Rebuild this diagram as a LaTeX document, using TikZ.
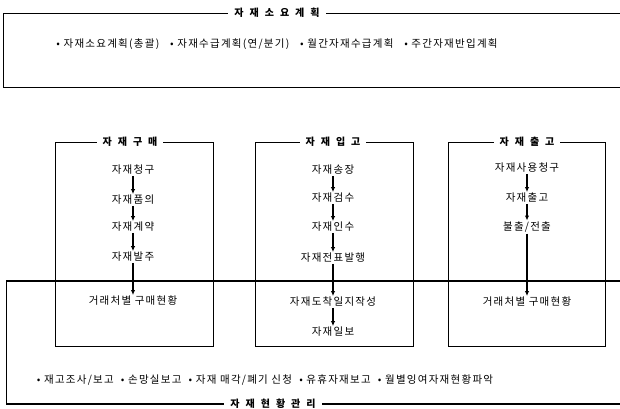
\documentclass[tikz,border=0pt]{standalone}
\usepackage{fontspec}
\setmainfont{Noto Sans CJK KR}[LetterSpace=12]
\usetikzlibrary{positioning, arrows.meta, calc}

\begin{document}
\begin{tikzpicture}[
    x=1pt, y=-1pt, % work in pixel-like units, y pointing down
    >={Latex[length=5pt,width=4.5pt]}, % Arrow tip style
    step_text/.style={ % Style for the steps inside a box
        inner sep=1pt,
        font=\fontsize{10.5}{12}\selectfont
    },
    title_text/.style={ % Box titles sitting on the frame line
        fill=white,
        inner xsep=6pt,
        inner ysep=1pt,
        font=\fontsize{10}{12}\selectfont\bfseries
    },
    item_text/.style={ % Bullet lists of the wide boxes
        font=\fontsize{10.5}{12}\selectfont
    },
    frame/.style={draw=black, line width=0.7pt},
    thickframe/.style={draw=black, line width=1.4pt},
    flow/.style={->, line width=1.1pt}
]
\useasboundingbox (0,0) rectangle (620,408);

% Top box
\draw[frame] (620,13) -- (3,13) -- (3,87) -- (620,87);
\node[title_text] (plan) at (277,13) {자\hspace{6pt}재\hspace{6pt}소\hspace{6pt}요\hspace{6pt}계\hspace{6pt}획};
\node[item_text] (planitems) at (277,44) {•\ 자재소요계획(총괄)\ \ \ •\ 자재수급계획(연/분기)\ \ \ •\ 월간자재수급계획\ \ \ •\ 주간자재반입계획};

% Bottom wide box
\draw[thickframe] (620,281) -- (6,281);
\draw[frame] (6,281) -- (6,404);
\draw[thickframe] (6,404) -- (620,404);
\node[title_text] (status) at (273,404) {자\hspace{6pt}재\hspace{6pt}현\hspace{6pt}황\hspace{6pt}관\hspace{6pt}리};
\node[item_text] (statusitems) at (265,380) {•\ 재고조사/보고\ \ •\ 손망실보고\ \ •\ 자재\ 매각/폐기\ 신청\ \ •\ 유휴자재보고\ \ •\ 월별잉여자재현황파악};

% Three process boxes
\draw[frame] (55,142) rectangle (213,346);
\draw[frame] (255,142) rectangle (413,346);
\draw[frame] (448,142) rectangle (605,346);
\node[title_text] (buy) at (130,142) {자\hspace{6pt}재\hspace{6pt}구\hspace{6pt}매};
\node[title_text] (inbound) at (333,142) {자\hspace{6pt}재\hspace{6pt}입\hspace{6pt}고};
\node[title_text] (outbound) at (527,142) {자\hspace{6pt}재\hspace{6pt}출\hspace{6pt}고};

% Purchase steps
\node[step_text] (request) at (133,170) {자재청구};
\node[step_text] (approve) at (133,200) {자재품의};
\node[step_text] (contract) at (133,227) {자재계약};
\node[step_text] (order) at (133,257) {자재발주};
\node[step_text] (buyreport) at (133,301) {거래처별 구매현황};

% Receiving steps
\node[step_text] (invoice) at (333,170) {자재송장};
\node[step_text] (inspect) at (333,198) {자재검수};
\node[step_text] (accept) at (333,227) {자재인수};
\node[step_text] (slip) at (333,258) {자재전표발행};
\node[step_text] (arrival) at (333,302) {자재도착일지작성};
\node[step_text] (daily) at (333,332) {자재일보};

% Issuing steps
\node[step_text] (userequest) at (527,168) {자재사용청구};
\node[step_text] (issue) at (527,198) {자재출고};
\node[step_text] (transfer) at (527,227) {불출/전출};
\node[step_text] (outreport) at (527,302) {거래처별 구매현황};

% Draw arrows
\draw[flow] (request) -- (approve);
\draw[flow] (approve) -- (contract);
\draw[flow] (contract) -- (order);
\draw[flow] (order) -- (buyreport);
\draw[flow] (invoice) -- (inspect);
\draw[flow] (inspect) -- (accept);
\draw[flow] (accept) -- (slip);
\draw[flow] (slip) -- (arrival);
\draw[flow] (arrival) -- (daily);
\draw[flow] (userequest) -- (issue);
\draw[flow] (issue) -- (transfer);
\draw[flow] (transfer) -- (outreport);

\end{tikzpicture}
\end{document}
